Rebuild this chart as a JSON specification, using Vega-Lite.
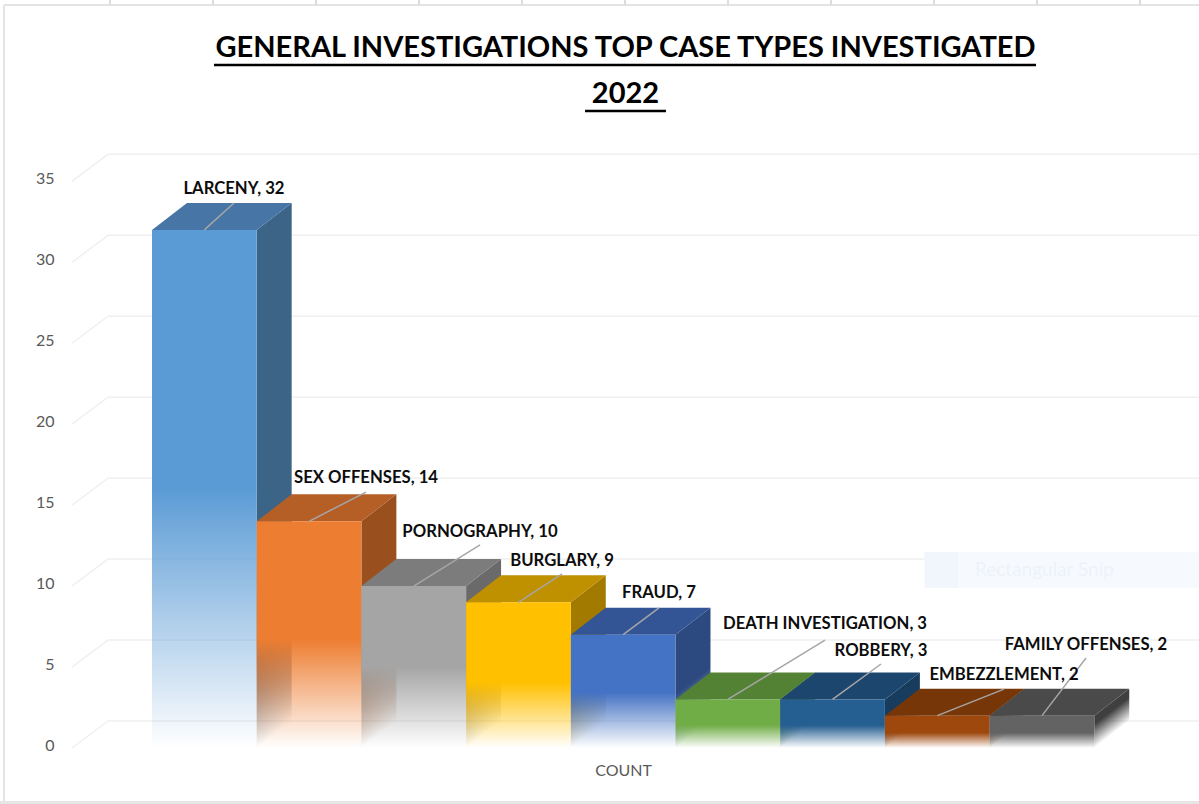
{
"$schema":"https://vega.github.io/schema/vega-lite/v6.json",
"autosize":{"type":"none"},
"width":1127,"height":635,
"padding":{"left":72,"top":120,"right":0,"bottom":49},
"background":"#ffffff",
"view":{"stroke":null},
"config":{"font":"Lato"},
"title":{"text":["GENERAL INVESTIGATIONS TOP CASE TYPES INVESTIGATED","2022"],"font":"Lato","fontWeight":"bold","fontSize":29,"lineHeight":46,"color":"#000000","anchor":"middle","dx":-10,"offset":-110},
"datasets":{"bars":[
{"case":"LARCENY","value":32,"order":0},
{"case":"SEX OFFENSES","value":14,"order":1},
{"case":"PORNOGRAPHY","value":10,"order":2},
{"case":"BURGLARY","value":9,"order":3},
{"case":"FRAUD","value":7,"order":4},
{"case":"DEATH INVESTIGATION","value":3,"order":5},
{"case":"ROBBERY","value":3,"order":6},
{"case":"EMBEZZLEMENT","value":2,"order":7},
{"case":"FAMILY OFFENSES","value":2,"order":8}
]},
"data":{"name":"bars"},
"layer":[
{"data":{"values":[{"level":0},{"level":5},{"level":10},{"level":15},{"level":20},{"level":25},{"level":30},{"level":35}]},
 "transform":[{"calculate":"[0,1,2]","as":"t"},{"flatten":["t"]},{"calculate":"[-0.7641,-0.42,10][datum.t]","as":"gx"},{"calculate":"datum.level+(datum.t==0?0:1.667)","as":"gy"}],
 "mark":{"type":"line","stroke":"#f0f0f0","strokeWidth":1.5},
 "encoding":{
  "x":{"field":"gx","type":"quantitative","scale":{"domain":[-0.7641,10],"nice":false,"zero":false},
   "axis":{"values":[4.5],"labelExpr":"'COUNT'","title":null,"grid":false,"domain":false,"ticks":false,"labelFontSize":16,"labelColor":"#595959","labelPadding":7,"labelFont":"Lato"}},
  "y":{"field":"gy","type":"quantitative","scale":{"domain":[-0.432,38.79],"nice":false,"zero":false},
   "axis":{"values":[0,5,10,15,20,25,30,35],"title":null,"grid":false,"domain":false,"ticks":false,"labelFontSize":16,"labelColor":"#595959","labelPadding":18,"labelOffset":-3,"labelFont":"Lato"}},
  "detail":{"field":"level"},
  "order":{"field":"t"}
 }},
{"data":{"values":[{"a":1}]},"mark":{"type":"rect","fill":"#f6faff"},"encoding":{"x":{"datum":7.38},"x2":{"datum":10},"y":{"datum":12.1},"y2":{"datum":9.9}}},
{"data":{"values":[{"a":1}]},"mark":{"type":"rect","fill":"#f1f6fd"},"encoding":{"x":{"datum":7.38},"x2":{"datum":7.7},"y":{"datum":12.1},"y2":{"datum":9.9}}},
{"data":{"values":[{"t":"Rectangular Snip"}]},"mark":{"type":"text","align":"left","baseline":"middle","fontSize":19,"color":"#eef2f7"},"encoding":{"x":{"datum":7.86},"y":{"datum":11},"text":{"field":"t"}}},
{"transform":[{"calculate":"[0,1]","as":"s"},{"flatten":["s"]},{"calculate":"datum.order+1+datum.s*0.334","as":"fx"},{"calculate":"datum.s*1.667","as":"fy"},{"calculate":"datum.value+datum.s*1.667","as":"fy2"}],
 "mark":{"type":"area","orient":"vertical"},
 "encoding":{"x":{"field":"fx","type":"quantitative"},"y":{"field":"fy","type":"quantitative"},"y2":{"field":"fy2"},"detail":{"field":"case"},
  "fill":{"condition":[
   {"test":"datum.order==0","value":{"gradient":"linear","x1":0,"y1":0,"x2":0.0494,"y2":0.9976,"stops":[{"offset":0,"color":"rgba(59,100,135,1)"},{"offset":0.84,"color":"rgba(59,100,135,1)"},{"offset":1,"color":"rgba(59,100,135,0)"}]}},
   {"test":"datum.order==1","value":{"gradient":"linear","x1":0,"y1":0,"x2":0.1048,"y2":0.9889,"stops":[{"offset":0,"color":"rgba(154,79,30,1)"},{"offset":0.69,"color":"rgba(154,79,30,1)"},{"offset":1,"color":"rgba(154,79,30,0)"}]}},
   {"test":"datum.order==2","value":{"gradient":"linear","x1":0,"y1":0,"x2":0.1402,"y2":0.98,"stops":[{"offset":0,"color":"rgba(106,106,106,1)"},{"offset":0.62,"color":"rgba(106,106,106,1)"},{"offset":1,"color":"rgba(106,106,106,0)"}]}},
   {"test":"datum.order==3","value":{"gradient":"linear","x1":0,"y1":0,"x2":0.1523,"y2":0.9763,"stops":[{"offset":0,"color":"rgba(162,122,0,1)"},{"offset":0.62,"color":"rgba(162,122,0,1)"},{"offset":1,"color":"rgba(162,122,0,0)"}]}},
   {"test":"datum.order==4","value":{"gradient":"linear","x1":0,"y1":0,"x2":0.186,"y2":0.9641,"stops":[{"offset":0,"color":"rgba(44,73,128,1)"},{"offset":0.62,"color":"rgba(44,73,128,1)"},{"offset":1,"color":"rgba(44,73,128,0)"}]}},
   {"test":"datum.order==5","value":{"gradient":"linear","x1":0,"y1":0,"x2":0.3153,"y2":0.8881,"stops":[{"offset":0,"color":"rgba(71,111,45,1)"},{"offset":0.6,"color":"rgba(71,111,45,1)"},{"offset":1,"color":"rgba(71,111,45,0)"}]}},
   {"test":"datum.order==6","value":{"gradient":"linear","x1":0,"y1":0,"x2":0.3153,"y2":0.8881,"stops":[{"offset":0,"color":"rgba(24,60,93,1)"},{"offset":0.6,"color":"rgba(24,60,93,1)"},{"offset":1,"color":"rgba(24,60,93,0)"}]}},
   {"test":"datum.order==7","value":{"gradient":"linear","x1":0,"y1":0,"x2":0.3786,"y2":0.8266,"stops":[{"offset":0,"color":"rgba(101,46,7,1)"},{"offset":0.6,"color":"rgba(101,46,7,1)"},{"offset":1,"color":"rgba(101,46,7,0)"}]}}
  ],"value":{"gradient":"linear","x1":0,"y1":0,"x2":0.3786,"y2":0.8266,"stops":[{"offset":0,"color":"rgba(63,63,63,1)"},{"offset":0.6,"color":"rgba(63,63,63,1)"},{"offset":1,"color":"rgba(63,63,63,0)"}]}}
 }},
{"transform":[{"calculate":"[0,1,2,3]","as":"t"},{"flatten":["t"]},{"calculate":"datum.order+[0,0.334,1,1.334][datum.t]","as":"fx"},{"calculate":"datum.value+(datum.t==3?1.667:0)","as":"fy"},{"calculate":"datum.value+(datum.t==0?0:1.667)","as":"fy2"}],
 "mark":{"type":"area","orient":"vertical"},
 "encoding":{"x":{"field":"fx","type":"quantitative"},"y":{"field":"fy","type":"quantitative"},"y2":{"field":"fy2"},
  "fill":{"field":"case","type":"nominal","legend":null,"scale":{"domain":["LARCENY","SEX OFFENSES","PORNOGRAPHY","BURGLARY","FRAUD","DEATH INVESTIGATION","ROBBERY","EMBEZZLEMENT","FAMILY OFFENSES"],"range":["#4675a6","#b55e25","#7c7c7c","#bf9000","#335595","#548235","#1c466d","#773608","#4a4a4a"]}}
 }},
{"transform":[{"calculate":"datum.order+1","as":"xe"},{"calculate":"0","as":"base"}],
 "mark":{"type":"rect"},
 "encoding":{"x":{"field":"order","type":"quantitative"},"x2":{"field":"xe"},"y":{"field":"base","type":"quantitative"},"y2":{"field":"value"},
  "fill":{"condition":[
   {"test":"datum.order==0","value":{"gradient":"linear","x1":0,"y1":0,"x2":0,"y2":1,"stops":[{"offset":0,"color":"rgba(91,155,213,1)"},{"offset":0.5,"color":"rgba(91,155,213,1)"},{"offset":1,"color":"rgba(91,155,213,0)"}]}},
   {"test":"datum.order==1","value":{"gradient":"linear","x1":0,"y1":0,"x2":0,"y2":1,"stops":[{"offset":0,"color":"rgba(237,125,49,1)"},{"offset":0.52,"color":"rgba(237,125,49,1)"},{"offset":1,"color":"rgba(237,125,49,0)"}]}},
   {"test":"datum.order==2","value":{"gradient":"linear","x1":0,"y1":0,"x2":0,"y2":1,"stops":[{"offset":0,"color":"rgba(165,165,165,1)"},{"offset":0.5,"color":"rgba(165,165,165,1)"},{"offset":1,"color":"rgba(165,165,165,0)"}]}},
   {"test":"datum.order==3","value":{"gradient":"linear","x1":0,"y1":0,"x2":0,"y2":1,"stops":[{"offset":0,"color":"rgba(255,192,0,1)"},{"offset":0.55,"color":"rgba(255,192,0,1)"},{"offset":1,"color":"rgba(255,192,0,0)"}]}},
   {"test":"datum.order==4","value":{"gradient":"linear","x1":0,"y1":0,"x2":0,"y2":1,"stops":[{"offset":0,"color":"rgba(68,114,196,1)"},{"offset":0.51,"color":"rgba(68,114,196,1)"},{"offset":1,"color":"rgba(68,114,196,0)"}]}},
   {"test":"datum.order==5","value":{"gradient":"linear","x1":0,"y1":0,"x2":0,"y2":1,"stops":[{"offset":0,"color":"rgba(112,173,71,1)"},{"offset":0.53,"color":"rgba(112,173,71,1)"},{"offset":1,"color":"rgba(112,173,71,0)"}]}},
   {"test":"datum.order==6","value":{"gradient":"linear","x1":0,"y1":0,"x2":0,"y2":1,"stops":[{"offset":0,"color":"rgba(37,94,145,1)"},{"offset":0.53,"color":"rgba(37,94,145,1)"},{"offset":1,"color":"rgba(37,94,145,0)"}]}},
   {"test":"datum.order==7","value":{"gradient":"linear","x1":0,"y1":0,"x2":0,"y2":1,"stops":[{"offset":0,"color":"rgba(158,72,14,1)"},{"offset":0.53,"color":"rgba(158,72,14,1)"},{"offset":1,"color":"rgba(158,72,14,0)"}]}}
  ],"value":{"gradient":"linear","x1":0,"y1":0,"x2":0,"y2":1,"stops":[{"offset":0,"color":"rgba(99,99,99,1)"},{"offset":0.53,"color":"rgba(99,99,99,1)"},{"offset":1,"color":"rgba(99,99,99,0)"}]}}
 }},
{"transform":[{"calculate":"datum.order+0.5","as":"cx"},{"calculate":"[0.783,2.044,3.133,3.916,4.842,6.428,6.963,8.138,8.921][datum.order]","as":"lx"},{"calculate":"[33.66,15.81,12.54,10.75,8.65,6.67,5.19,3.64,5.56][datum.order]","as":"ly"}],
 "mark":{"type":"rule","stroke":"#a6a6a6","strokeWidth":1.5},
 "encoding":{"x":{"field":"cx","type":"quantitative"},"x2":{"field":"lx"},"y":{"field":"value","type":"quantitative"},"y2":{"field":"ly"}}},
{"transform":[{"calculate":"[0.783,2.044,3.133,3.916,4.842,6.428,6.963,8.138,8.921][datum.order]","as":"lx"},{"calculate":"[34.59,16.74,13.40,11.61,9.64,7.72,6.05,4.57,6.42][datum.order]","as":"ty"},{"calculate":"datum.case+', '+datum.value","as":"label"}],
 "mark":{"type":"text","align":"center","baseline":"middle","dy":1,"fontSize":16.7,"fontWeight":"bold","font":"Lato","color":"#0d0d0d"},
 "encoding":{"x":{"field":"lx","type":"quantitative"},"y":{"field":"ty","type":"quantitative"},"text":{"field":"label"}}},
{"data":{"values":[{"a":1}]},"mark":{"type":"rule","stroke":"#000000","strokeWidth":2.5},"encoding":{"x":{"datum":0.592},"x2":{"datum":8.443},"y":{"datum":42.19}}},
{"data":{"values":[{"a":1}]},"mark":{"type":"rule","stroke":"#000000","strokeWidth":2.5},"encoding":{"x":{"datum":4.136},"x2":{"datum":4.909},"y":{"datum":39.34}}},
{"data":{"values":[{"a":1}]},"mark":{"type":"rule","stroke":"#e4e4e4","strokeWidth":2},"encoding":{"x":{"datum":-1.414},"y":{"datum":45.89},"y2":{"datum":-3.27}}},
{"data":{"values":[{"a":1}]},"mark":{"type":"rule","stroke":"#e4e4e4","strokeWidth":2},"encoding":{"x":{"datum":-1.414},"x2":{"datum":10},"y":{"datum":45.89}}},
{"data":{"values":[{"a":1}]},"mark":{"type":"rule","stroke":"#e6e6e6","strokeWidth":3},"encoding":{"x":{"datum":-1.4518},"x2":{"datum":10},"y":{"datum":-3.37}}},
{"data":{"values":[{"col":1},{"col":2},{"col":3},{"col":4},{"col":5},{"col":6},{"col":7},{"col":8},{"col":9},{"col":10},{"col":11}]},
 "transform":[{"calculate":"(datum.col*103+7-152)/104.7","as":"cx"},{"calculate":"46.2","as":"y1"},{"calculate":"45.89","as":"y2v"}],
 "mark":{"type":"rule","stroke":"#dcdcdc","strokeWidth":2},
 "encoding":{"x":{"field":"cx","type":"quantitative"},"y":{"field":"y1","type":"quantitative"},"y2":{"field":"y2v"}}}
]
}
